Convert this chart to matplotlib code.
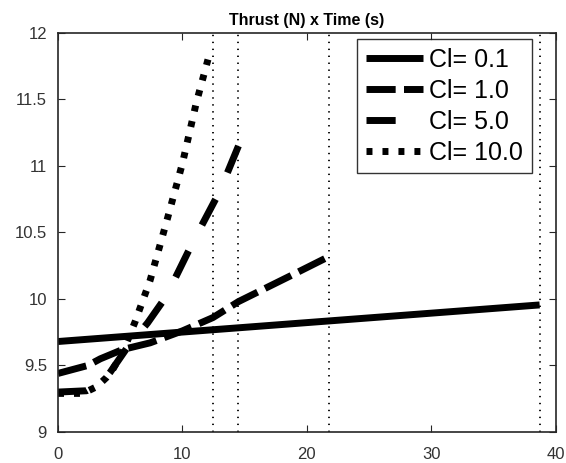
import numpy as np
import matplotlib.pyplot as plt

plt.rcParams['font.family'] = ['Liberation Sans', 'DejaVu Sans']
plt.rcParams['lines.scale_dashes'] = False

# time (s) and thrust (N), one curve per Cl
t_01 = [0.0, 38.7]
f_01 = [9.68, 9.955]

t_10 = [0.0, 2.4, 3.4, 5.2, 7.4, 10.0, 12.45, 14.5, 18.6, 21.8]
f_10 = [9.44, 9.50, 9.55, 9.62, 9.67, 9.76, 9.86, 9.98, 10.17, 10.32]

t_50 = [0.0, 2.3, 3.5, 4.2, 5.6, 7.2, 8.7, 10.8, 13.0, 14.5]
f_50 = [9.30, 9.31, 9.37, 9.45, 9.64, 9.82, 10.02, 10.42, 10.81, 11.15]

t_100 = [0.0, 2.0, 3.1, 3.9, 4.4, 5.3, 6.2, 7.4, 8.75, 10.0, 11.1, 12.05]
f_100 = [9.29, 9.29, 9.34, 9.41, 9.47, 9.62, 9.83, 10.14, 10.59, 11.02, 11.47, 11.8]

# end-of-run markers
t_end = [12.45, 14.5, 21.8, 38.7]

labels = ['Cl= 0.1', 'Cl= 1.0', 'Cl= 5.0', 'Cl= 10.0']

fig, ax = plt.subplots(figsize=(5.66, 4.63), dpi=100)
fig.subplots_adjust(left=0.1025, right=0.982, top=0.929, bottom=0.067)

lw = 5
ax.plot(t_01, f_01, color='k', lw=lw, solid_capstyle='butt', label=labels[0])
ax.plot(t_10, f_10, color='k', lw=lw, dashes=(21, 6), dash_capstyle='butt', label=labels[1])
ax.plot(t_50, f_50, color='k', lw=lw, dashes=(21, 21), dash_capstyle='butt', label=labels[2])
ax.plot(t_100, f_100, color='k', lw=lw, dashes=(4.3, 7.2), dash_capstyle='butt', label=labels[3])

for te in t_end:
    ax.axvline(te, color='k', lw=1.3, linestyle=(0, (1, 4)))

ax.set_xlim(0, 40)
ax.set_ylim(9, 12)
ax.set_xticks([0, 10, 20, 30, 40])
ax.set_yticks([9, 9.5, 10, 10.5, 11, 11.5, 12])
ax.set_yticklabels(['9', '9.5', '10', '10.5', '11', '11.5', '12'])
ax.tick_params(direction='in', top=True, right=True, length=5, width=0.8,
               labelsize=12, labelcolor='#333333', color='#262626')
ax.tick_params(axis='x', pad=11)
ax.tick_params(axis='y', pad=8)
for s in ax.spines.values():
    s.set_color('#262626')
    s.set_linewidth(1.2)

ax.set_title('Thrust (N) x Time (s)', fontsize=11.5, fontweight='bold', pad=6)

leg = ax.legend(loc='upper right', bbox_to_anchor=(0.952, 0.985), borderaxespad=0,
                fontsize=18, frameon=True, fancybox=False,
                edgecolor='k', handlelength=2.3, handletextpad=0.25,
                labelspacing=0.28, borderpad=0.35)
leg.get_frame().set_linewidth(1.0)

plt.savefig('out.png', dpi=100)
